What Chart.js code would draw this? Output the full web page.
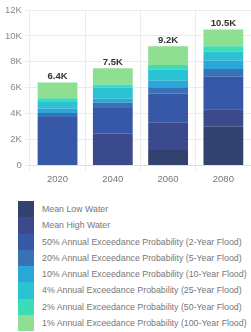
<!DOCTYPE html>
<html>
<head>
<meta charset="utf-8">
<script src="https://cdn.jsdelivr.net/npm/chart.js@4/dist/chart.umd.min.js"></script>
<style>
  html, body { margin: 0; padding: 0; background: #fff; }
  body { width: 251px; height: 332px; overflow: hidden; font-family: "Liberation Sans", Arial, sans-serif; }
  #wrap { position: relative; width: 251px; height: 190px; }
  #legend { margin: 0; padding: 0; list-style: none; position: absolute; left: 18px; top: 201px; }
  #legend li { display: flex; align-items: center; height: 16.25px; }
  #legend .sw { width: 16px; height: 16.25px; flex: none; }
  #legend .tx { margin-left: 8px; font-size: 8.8px; color: #777; white-space: nowrap; }
</style>
</head>
<body>
<div id="wrap"><canvas id="c"></canvas></div>
<ul id="legend"></ul>
<script>
// ---- data (values in thousands, stacked increments) ----
const categories = ["2020", "2040", "2060", "2080"];
const seriesNames = [
  "Mean Low Water",
  "Mean High Water",
  "50% Annual Exceedance Probability (2-Year Flood)",
  "20% Annual Exceedance Probability (5-Year Flood)",
  "10% Annual Exceedance Probability (10-Year Flood)",
  "4% Annual Exceedance Probability (25-Year Flood)",
  "2% Annual Exceedance Probability (50-Year Flood)",
  "1% Annual Exceedance Probability (100-Year Flood)"
];
const meanLowWater   = [0,    0,    1.2,  3.0];
const meanHighWater  = [0,    2.45, 2.1,  1.35];
const aep50          = [3.75, 2.0,  2.25, 2.5];
const aep20          = [0.3,  0.4,  0.5,  0.6];
const aep10          = [0.35, 0.3,  0.5,  0.65];
const aep4           = [0.5,  0.85, 0.85, 0.7];
const aep2           = [0.3,  0.25, 0.35, 0.4];
const aep1           = [1.2,  1.25, 1.45, 1.3];
const yTicks = [0, 2, 4, 6, 8, 10, 12];
const colors = ["#33416e", "#3b4a8c", "#3757a7", "#3a70b4", "#2ba6d9", "#2bc2d4", "#3ddbb6", "#8fdf92"];

const seriesValues = [meanLowWater, meanHighWater, aep50, aep20, aep10, aep4, aep2, aep1];
const fontFamily = '"Liberation Sans", Arial, sans-serif';

const totalLabels = {
  id: "totalLabels",
  afterDatasetsDraw(chart) {
    const ctx = chart.ctx;
    const lastMeta = chart.getDatasetMeta(chart.data.datasets.length - 1);
    ctx.save();
    ctx.font = "bold 9.5px " + fontFamily;
    ctx.fillStyle = "#333";
    ctx.textAlign = "center";
    ctx.textBaseline = "bottom";
    categories.forEach((c, i) => {
      let total = 0;
      chart.data.datasets.forEach(ds => total += ds.data[i]);
      const bar = lastMeta.data[i];
      const y = chart.scales.y.getPixelForValue(total);
      ctx.fillText(total.toFixed(1) + "K", bar.x, y - 1);
    });
    ctx.restore();
  }
};

const chart = new Chart(document.getElementById("c"), {
  type: "bar",
  data: {
    labels: categories,
    datasets: seriesNames.map((n, k) => ({
      label: n,
      data: seriesValues[k],
      backgroundColor: colors[k],
      borderWidth: 0,
      categoryPercentage: 0.8,
      barPercentage: 0.9
    }))
  },
  options: {
    responsive: true,
    maintainAspectRatio: false,
    animation: false,
    layout: { padding: { top: 10, right: 0, left: 2, bottom: 2 } },
    plugins: { legend: { display: false }, tooltip: { enabled: false } },
    scales: {
      x: {
        stacked: true,
        grid: { color: "#ececec", tickLength: 5, offset: true },
        border: { color: "#e0e0e0" },
        ticks: { color: "#777", font: { size: 9.5, family: fontFamily }, padding: 3 }
      },
      y: {
        stacked: true,
        min: 0,
        max: 12,
        afterBuildTicks(axis) { axis.ticks = yTicks.map(v => ({ value: v })); },
        grid: { color: "#ececec", tickLength: 5 },
        border: { display: false },
        ticks: {
          color: "#888",
          font: { size: 9.5, family: fontFamily },
          padding: 3,
          callback: v => v === 0 ? "0" : v + "K"
        }
      }
    }
  },
  plugins: [totalLabels]
});

const legend = document.getElementById("legend");
chart.data.datasets.forEach(ds => {
  const li = document.createElement("li");
  const sw = document.createElement("span");
  sw.className = "sw";
  sw.style.background = ds.backgroundColor;
  const tx = document.createElement("span");
  tx.className = "tx";
  tx.textContent = ds.label;
  li.appendChild(sw);
  li.appendChild(tx);
  legend.appendChild(li);
});
</script>
</body>
</html>
